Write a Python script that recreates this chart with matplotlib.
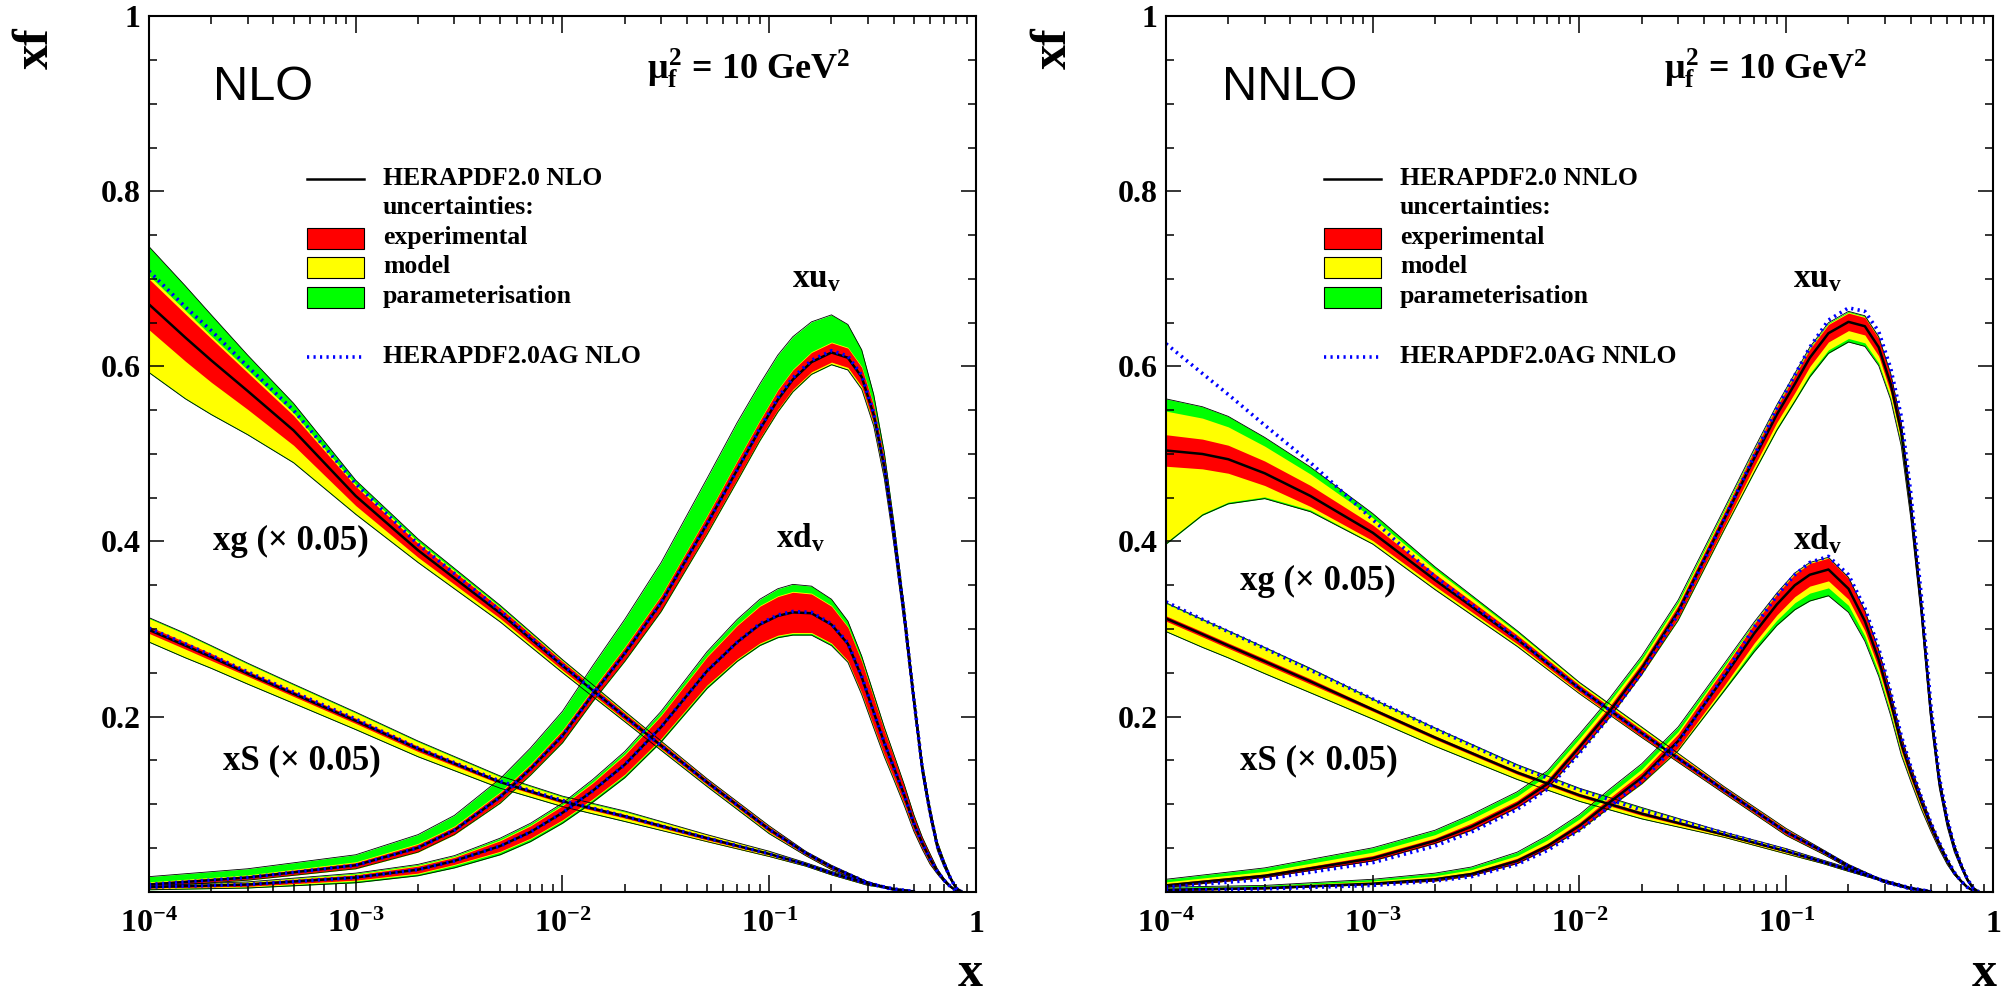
import numpy as np
import matplotlib
matplotlib.use('Agg')
import matplotlib.pyplot as plt
from matplotlib.ticker import FixedLocator, LogLocator, MultipleLocator, NullFormatter
from matplotlib.patches import Rectangle
from matplotlib.lines import Line2D

plt.rcParams['font.family'] = 'Liberation Serif'
plt.rcParams['font.weight'] = 'bold'
plt.rcParams['mathtext.fontset'] = 'custom'
plt.rcParams['mathtext.rm'] = 'Liberation Serif:bold'
plt.rcParams['mathtext.it'] = 'Liberation Serif:bold'
plt.rcParams['mathtext.bf'] = 'Liberation Serif:bold'

# x points of the tables, mu_f^2 = 10 GeV^2
# gluon and sea (shown scaled by 0.05)
x_sea = [1e-4, 1.5e-4, 2e-4, 3e-4, 5e-4,
         1e-3, 2e-3, 5e-3, 1e-2, 2e-2,
         5e-2, 0.1, 0.15, 0.2, 0.3,
         0.4, 0.5]
# valence quarks
x_val = [1e-4, 3e-4, 1e-3, 2e-3, 3e-3,
         5e-3, 7e-3, 1e-2, 1.4e-2, 2e-2,
         3e-2, 5e-2, 0.07, 0.09, 0.11,
         0.13, 0.16, 0.2, 0.24, 0.28,
         0.32, 0.36, 0.4, 0.45, 0.5,
         0.55, 0.6, 0.65, 0.7, 0.75,
         0.8, 0.85]

x_ticks = [1e-4, 1e-3, 1e-2, 1e-1, 1]
x_tick_labels = ['$10^{-4}$', '$10^{-3}$', '$10^{-2}$', '$10^{-1}$', '1']
y_ticks = [0.2, 0.4, 0.6, 0.8, 1.0]
y_tick_labels = ['0.2', '0.4', '0.6', '0.8', '1']

# ---------------- NLO ----------------
nlo_uv = [0.008, 0.016, 0.030, 0.050, 0.070,
          0.108, 0.140, 0.178, 0.225, 0.272,
          0.330, 0.420, 0.482, 0.528, 0.562,
          0.585, 0.605, 0.616, 0.610, 0.588,
          0.545, 0.485, 0.410, 0.315, 0.220,
          0.140, 0.090, 0.052, 0.032, 0.016,
          0.004, 0.000]
nlo_uv_ag = [0.008, 0.016, 0.030, 0.050, 0.070,
             0.108, 0.140, 0.178, 0.225, 0.272,
             0.330, 0.420, 0.482, 0.529, 0.564,
             0.587, 0.607, 0.618, 0.612, 0.590,
             0.547, 0.487, 0.411, 0.316, 0.221,
             0.141, 0.090, 0.052, 0.032, 0.016,
             0.004, 0.000]
nlo_uv_exp = [0.002, 0.002, 0.003, 0.004, 0.004,
              0.005, 0.005, 0.006, 0.006, 0.007,
              0.008, 0.009, 0.010, 0.010, 0.011,
              0.011, 0.011, 0.011, 0.011, 0.011,
              0.010, 0.010, 0.009, 0.008, 0.007,
              0.006, 0.005, 0.004, 0.003, 0.002,
              0.001, 0.000]
nlo_uv_mod_lo = [0.001, 0.001, 0.001, 0.001, 0.001,
                 0.001, 0.001, 0.001, 0.001, 0.001,
                 0.001, 0.002, 0.002, 0.002, 0.002,
                 0.002, 0.002, 0.002, 0.002, 0.002,
                 0.002, 0.002, 0.002, 0.002, 0.001,
                 0.001, 0.001, 0.001, 0.001, 0.000,
                 0.000, 0.000]
nlo_uv_mod_hi = [0.001, 0.001, 0.001, 0.001, 0.001,
                 0.001, 0.001, 0.001, 0.001, 0.001,
                 0.001, 0.001, 0.001, 0.001, 0.001,
                 0.001, 0.001, 0.001, 0.001, 0.001,
                 0.001, 0.001, 0.001, 0.001, 0.001,
                 0.001, 0.001, 0.001, 0.001, 0.000,
                 0.000, 0.000]
nlo_uv_par_lo = [0.000, 0.000, 0.000, 0.000, 0.000,
                 0.001, 0.001, 0.001, 0.001, 0.001,
                 0.001, 0.001, 0.001, 0.001, 0.001,
                 0.001, 0.001, 0.001, 0.001, 0.001,
                 0.001, 0.001, 0.001, 0.001, 0.000,
                 0.000, 0.000, 0.000, 0.000, 0.000,
                 0.000, 0.000]
nlo_uv_par_hi = [0.006, 0.007, 0.008, 0.010, 0.012,
                 0.015, 0.018, 0.021, 0.026, 0.031,
                 0.037, 0.042, 0.043, 0.041, 0.039,
                 0.037, 0.034, 0.031, 0.026, 0.019,
                 0.012, 0.006, 0.003, 0.001, 0.000,
                 0.000, 0.000, 0.000, 0.000, 0.000,
                 0.000, 0.000]

nlo_dv = [0.005, 0.008, 0.016, 0.025, 0.035,
          0.052, 0.068, 0.090, 0.115, 0.145,
          0.188, 0.252, 0.285, 0.305, 0.315,
          0.319, 0.318, 0.305, 0.283, 0.245,
          0.205, 0.170, 0.142, 0.110, 0.078,
          0.055, 0.037, 0.023, 0.013, 0.006,
          0.001, 0.000]
nlo_dv_ag = [0.005, 0.008, 0.016, 0.025, 0.035,
             0.052, 0.068, 0.090, 0.115, 0.145,
             0.188, 0.252, 0.285, 0.306, 0.316,
             0.320, 0.319, 0.306, 0.284, 0.246,
             0.205, 0.170, 0.142, 0.110, 0.078,
             0.055, 0.037, 0.023, 0.013, 0.006,
             0.001, 0.000]
nlo_dv_exp = [0.001, 0.002, 0.003, 0.004, 0.004,
              0.006, 0.007, 0.008, 0.009, 0.011,
              0.013, 0.016, 0.019, 0.021, 0.022,
              0.023, 0.022, 0.021, 0.019, 0.018,
              0.016, 0.014, 0.012, 0.010, 0.008,
              0.006, 0.005, 0.003, 0.002, 0.001,
              0.000, 0.000]
nlo_dv_mod_lo = [0.001, 0.001, 0.001, 0.001, 0.001,
                 0.001, 0.001, 0.001, 0.001, 0.001,
                 0.001, 0.001, 0.001, 0.001, 0.001,
                 0.001, 0.001, 0.001, 0.001, 0.001,
                 0.001, 0.001, 0.001, 0.001, 0.001,
                 0.001, 0.001, 0.000, 0.000, 0.000,
                 0.000, 0.000]
nlo_dv_mod_hi = [0.001, 0.001, 0.001, 0.001, 0.001,
                 0.001, 0.001, 0.001, 0.001, 0.001,
                 0.001, 0.001, 0.001, 0.001, 0.001,
                 0.001, 0.001, 0.001, 0.001, 0.001,
                 0.001, 0.001, 0.001, 0.001, 0.001,
                 0.001, 0.001, 0.000, 0.000, 0.000,
                 0.000, 0.000]
nlo_dv_par_lo = [0.001, 0.001, 0.002, 0.002, 0.003,
                 0.003, 0.003, 0.003, 0.003, 0.003,
                 0.003, 0.003, 0.002, 0.002, 0.002,
                 0.002, 0.002, 0.002, 0.001, 0.001,
                 0.001, 0.001, 0.001, 0.001, 0.000,
                 0.000, 0.000, 0.000, 0.000, 0.000,
                 0.000, 0.000]
nlo_dv_par_hi = [0.000, 0.000, 0.001, 0.001, 0.001,
                 0.002, 0.002, 0.002, 0.003, 0.003,
                 0.004, 0.005, 0.006, 0.007, 0.008,
                 0.008, 0.008, 0.007, 0.006, 0.005,
                 0.004, 0.003, 0.002, 0.001, 0.001,
                 0.000, 0.000, 0.000, 0.000, 0.000,
                 0.000, 0.000]

nlo_g = [0.671, 0.633, 0.607, 0.572, 0.527,
         0.452, 0.390, 0.318, 0.258, 0.200,
         0.125, 0.071, 0.044, 0.028, 0.010,
         0.002, 0.000]
nlo_g_ag = [0.709, 0.668, 0.641, 0.600, 0.550,
            0.466, 0.397, 0.321, 0.259, 0.200,
            0.125, 0.071, 0.044, 0.028, 0.010,
            0.002, 0.000]
nlo_g_exp = [0.029, 0.027, 0.025, 0.021, 0.017,
             0.011, 0.008, 0.006, 0.005, 0.004,
             0.003, 0.003, 0.002, 0.002, 0.001,
             0.000, 0.000]
nlo_g_mod_lo = [0.048, 0.042, 0.036, 0.028, 0.019,
                0.009, 0.005, 0.003, 0.002, 0.001,
                0.001, 0.001, 0.001, 0.001, 0.000,
                0.000, 0.000]
nlo_g_mod_hi = [0.004, 0.004, 0.003, 0.003, 0.003,
                0.002, 0.002, 0.001, 0.001, 0.001,
                0.001, 0.001, 0.000, 0.000, 0.000,
                0.000, 0.000]
nlo_g_par_lo = [0.001, 0.001, 0.001, 0.001, 0.001,
                0.001, 0.001, 0.001, 0.001, 0.001,
                0.001, 0.001, 0.000, 0.000, 0.000,
                0.000, 0.000]
nlo_g_par_hi = [0.033, 0.028, 0.024, 0.017, 0.011,
                0.005, 0.003, 0.002, 0.001, 0.001,
                0.000, 0.000, 0.000, 0.000, 0.000,
                0.000, 0.000]

nlo_s = [0.299, 0.281, 0.268, 0.249, 0.226,
         0.195, 0.163, 0.125, 0.103, 0.086,
         0.061, 0.043, 0.031, 0.021, 0.009,
         0.003, 0.000]
nlo_s_ag = [0.301, 0.283, 0.270, 0.251, 0.228,
            0.197, 0.164, 0.126, 0.104, 0.086,
            0.061, 0.043, 0.031, 0.021, 0.009,
            0.003, 0.000]
nlo_s_exp = [0.004, 0.004, 0.004, 0.003, 0.003,
             0.003, 0.003, 0.002, 0.002, 0.002,
             0.002, 0.001, 0.001, 0.001, 0.001,
             0.000, 0.000]
nlo_s_mod_lo = [0.009, 0.009, 0.008, 0.008, 0.007,
                0.006, 0.005, 0.004, 0.003, 0.003,
                0.002, 0.002, 0.001, 0.001, 0.001,
                0.000, 0.000]
nlo_s_mod_hi = [0.009, 0.009, 0.008, 0.008, 0.007,
                0.006, 0.005, 0.004, 0.003, 0.003,
                0.002, 0.002, 0.001, 0.001, 0.001,
                0.000, 0.000]
nlo_s_par_lo = [0.001, 0.001, 0.001, 0.001, 0.001,
                0.001, 0.001, 0.001, 0.001, 0.001,
                0.000, 0.000, 0.000, 0.000, 0.000,
                0.000, 0.000]
nlo_s_par_hi = [0.001, 0.001, 0.001, 0.001, 0.001,
                0.001, 0.001, 0.001, 0.001, 0.001,
                0.000, 0.000, 0.000, 0.000, 0.000,
                0.000, 0.000]

# ---------------- NNLO ----------------
nnlo_uv = [0.007, 0.018, 0.038, 0.058, 0.074,
           0.100, 0.123, 0.165, 0.206, 0.255,
           0.320, 0.425, 0.495, 0.545, 0.580,
           0.610, 0.638, 0.651, 0.646, 0.622,
           0.580, 0.525, 0.440, 0.325, 0.205,
           0.125, 0.080, 0.050, 0.030, 0.014,
           0.004, 0.000]
nnlo_uv_ag = [0.005, 0.014, 0.033, 0.052, 0.068,
              0.094, 0.117, 0.158, 0.200, 0.250,
              0.317, 0.425, 0.498, 0.552, 0.590,
              0.622, 0.653, 0.667, 0.663, 0.640,
              0.598, 0.543, 0.456, 0.338, 0.214,
              0.131, 0.084, 0.052, 0.031, 0.015,
              0.004, 0.000]
nnlo_uv_exp = [0.002, 0.002, 0.003, 0.003, 0.004,
               0.004, 0.005, 0.005, 0.006, 0.006,
               0.007, 0.008, 0.009, 0.009, 0.010,
               0.010, 0.010, 0.010, 0.010, 0.010,
               0.010, 0.009, 0.009, 0.008, 0.007,
               0.006, 0.005, 0.004, 0.003, 0.002,
               0.001, 0.000]
nnlo_uv_mod_lo = [0.000, 0.000, 0.000, 0.000, 0.000,
                  0.000, 0.000, 0.001, 0.001, 0.001,
                  0.002, 0.003, 0.005, 0.006, 0.007,
                  0.008, 0.009, 0.009, 0.009, 0.008,
                  0.006, 0.005, 0.003, 0.002, 0.002,
                  0.001, 0.001, 0.001, 0.000, 0.000,
                  0.000, 0.000]
nnlo_uv_mod_hi = [0.002, 0.003, 0.004, 0.004, 0.005,
                  0.005, 0.005, 0.005, 0.005, 0.004,
                  0.003, 0.002, 0.001, 0.001, 0.001,
                  0.001, 0.001, 0.001, 0.001, 0.001,
                  0.001, 0.001, 0.001, 0.001, 0.001,
                  0.001, 0.000, 0.000, 0.000, 0.000,
                  0.000, 0.000]
nnlo_uv_par_lo = [0.000, 0.000, 0.000, 0.000, 0.000,
                  0.000, 0.000, 0.000, 0.000, 0.000,
                  0.001, 0.001, 0.002, 0.003, 0.003,
                  0.004, 0.004, 0.004, 0.004, 0.003,
                  0.002, 0.002, 0.001, 0.001, 0.001,
                  0.000, 0.000, 0.000, 0.000, 0.000,
                  0.000, 0.000]
nnlo_uv_par_hi = [0.003, 0.004, 0.005, 0.005, 0.005,
                  0.005, 0.005, 0.005, 0.004, 0.004,
                  0.003, 0.002, 0.001, 0.001, 0.001,
                  0.001, 0.001, 0.001, 0.001, 0.001,
                  0.001, 0.001, 0.001, 0.000, 0.000,
                  0.000, 0.000, 0.000, 0.000, 0.000,
                  0.000, 0.000]

nnlo_dv = [0.002, 0.004, 0.009, 0.014, 0.020,
           0.035, 0.052, 0.075, 0.102, 0.130,
           0.172, 0.245, 0.295, 0.328, 0.350,
           0.362, 0.368, 0.346, 0.309, 0.265,
           0.217, 0.169, 0.136, 0.103, 0.075,
           0.053, 0.035, 0.021, 0.012, 0.005,
           0.001, 0.000]
nnlo_dv_ag = [0.001, 0.003, 0.007, 0.012, 0.017,
              0.031, 0.047, 0.070, 0.097, 0.126,
              0.170, 0.247, 0.302, 0.338, 0.362,
              0.376, 0.383, 0.362, 0.324, 0.278,
              0.228, 0.178, 0.143, 0.108, 0.079,
              0.056, 0.037, 0.022, 0.012, 0.005,
              0.001, 0.000]
nnlo_dv_exp = [0.001, 0.001, 0.001, 0.002, 0.002,
               0.003, 0.003, 0.004, 0.005, 0.006,
               0.008, 0.010, 0.011, 0.012, 0.013,
               0.013, 0.013, 0.012, 0.011, 0.010,
               0.009, 0.008, 0.007, 0.006, 0.005,
               0.004, 0.003, 0.002, 0.001, 0.001,
               0.000, 0.000]
nnlo_dv_mod_lo = [0.000, 0.000, 0.000, 0.000, 0.000,
                  0.000, 0.000, 0.001, 0.001, 0.001,
                  0.002, 0.003, 0.005, 0.006, 0.007,
                  0.008, 0.008, 0.007, 0.006, 0.005,
                  0.004, 0.003, 0.002, 0.002, 0.001,
                  0.001, 0.001, 0.000, 0.000, 0.000,
                  0.000, 0.000]
nnlo_dv_mod_hi = [0.001, 0.001, 0.002, 0.002, 0.003,
                  0.003, 0.004, 0.004, 0.004, 0.004,
                  0.003, 0.002, 0.001, 0.001, 0.001,
                  0.001, 0.001, 0.001, 0.001, 0.001,
                  0.001, 0.000, 0.000, 0.000, 0.000,
                  0.000, 0.000, 0.000, 0.000, 0.000,
                  0.000, 0.000]
nnlo_dv_par_lo = [0.000, 0.000, 0.000, 0.000, 0.000,
                  0.000, 0.000, 0.000, 0.000, 0.000,
                  0.001, 0.003, 0.005, 0.006, 0.008,
                  0.009, 0.009, 0.008, 0.006, 0.004,
                  0.003, 0.002, 0.001, 0.001, 0.000,
                  0.000, 0.000, 0.000, 0.000, 0.000,
                  0.000, 0.000]
nnlo_dv_par_hi = [0.001, 0.001, 0.002, 0.003, 0.003,
                  0.004, 0.005, 0.005, 0.006, 0.006,
                  0.005, 0.003, 0.001, 0.000, 0.000,
                  0.000, 0.000, 0.000, 0.000, 0.000,
                  0.000, 0.000, 0.000, 0.000, 0.000,
                  0.000, 0.000, 0.000, 0.000, 0.000,
                  0.000, 0.000]

nnlo_g = [0.504, 0.500, 0.494, 0.478, 0.452,
          0.410, 0.356, 0.288, 0.232, 0.181,
          0.116, 0.068, 0.046, 0.029, 0.011,
          0.003, 0.000]
nnlo_g_ag = [0.626, 0.592, 0.568, 0.533, 0.490,
             0.425, 0.360, 0.289, 0.232, 0.181,
             0.116, 0.068, 0.046, 0.029, 0.011,
             0.003, 0.000]
nnlo_g_exp = [0.018, 0.017, 0.016, 0.014, 0.012,
              0.009, 0.007, 0.005, 0.004, 0.004,
              0.003, 0.003, 0.002, 0.002, 0.001,
              0.000, 0.000]
nnlo_g_mod_lo = [0.087, 0.051, 0.033, 0.013, 0.004,
                 0.003, 0.003, 0.002, 0.002, 0.001,
                 0.001, 0.001, 0.001, 0.000, 0.000,
                 0.000, 0.000]
nnlo_g_mod_hi = [0.027, 0.024, 0.021, 0.017, 0.013,
                 0.008, 0.005, 0.003, 0.002, 0.002,
                 0.001, 0.001, 0.000, 0.000, 0.000,
                 0.000, 0.000]
nnlo_g_par_lo = [0.002, 0.002, 0.002, 0.002, 0.002,
                 0.001, 0.001, 0.001, 0.000, 0.000,
                 0.000, 0.000, 0.000, 0.000, 0.000,
                 0.000, 0.000]
nnlo_g_par_hi = [0.014, 0.013, 0.012, 0.010, 0.008,
                 0.005, 0.003, 0.002, 0.001, 0.001,
                 0.000, 0.000, 0.000, 0.000, 0.000,
                 0.000, 0.000]

nnlo_s = [0.312, 0.294, 0.281, 0.263, 0.240,
          0.208, 0.176, 0.136, 0.110, 0.089,
          0.065, 0.046, 0.034, 0.025, 0.012,
          0.004, 0.000]
nnlo_s_ag = [0.331, 0.311, 0.297, 0.278, 0.253,
             0.220, 0.186, 0.143, 0.116, 0.093,
             0.067, 0.047, 0.034, 0.025, 0.012,
             0.004, 0.000]
nnlo_s_exp = [0.003, 0.003, 0.003, 0.003, 0.003,
              0.002, 0.002, 0.002, 0.002, 0.002,
              0.001, 0.001, 0.001, 0.001, 0.001,
              0.000, 0.000]
nnlo_s_mod_lo = [0.011, 0.011, 0.010, 0.010, 0.009,
                 0.008, 0.007, 0.005, 0.004, 0.003,
                 0.002, 0.002, 0.001, 0.001, 0.000,
                 0.000, 0.000]
nnlo_s_mod_hi = [0.014, 0.013, 0.013, 0.012, 0.011,
                 0.009, 0.008, 0.006, 0.005, 0.004,
                 0.002, 0.002, 0.001, 0.001, 0.000,
                 0.000, 0.000]
nnlo_s_par_lo = [0.001, 0.001, 0.001, 0.001, 0.001,
                 0.001, 0.001, 0.001, 0.001, 0.001,
                 0.000, 0.000, 0.000, 0.000, 0.000,
                 0.000, 0.000]
nnlo_s_par_hi = [0.001, 0.001, 0.001, 0.001, 0.001,
                 0.001, 0.001, 0.001, 0.001, 0.001,
                 0.000, 0.000, 0.000, 0.000, 0.000,
                 0.000, 0.000]

RED = '#ff0000'
YELLOW = '#ffff00'
GREEN = '#00ff00'
BLUE = '#0000ff'
AG_STYLE = dict(color=BLUE, lw=2.6, ls=(0, (0.6, 1.2)), dash_capstyle='butt')


def pdf_bands(ax, x, c, exp, mod_lo, mod_hi, par_lo, par_hi):
    c = np.array(c)
    red_lo = c - np.array(exp)
    red_hi = c + np.array(exp)
    yel_lo = red_lo - np.array(mod_lo)
    yel_hi = red_hi + np.array(mod_hi)
    grn_lo = yel_lo - np.array(par_lo)
    grn_hi = yel_hi + np.array(par_hi)
    ax.fill_between(x, grn_lo, grn_hi, color=GREEN, lw=0)
    ax.fill_between(x, yel_lo, yel_hi, color=YELLOW, lw=0)
    ax.fill_between(x, red_lo, red_hi, color=RED, lw=0)
    ax.plot(x, grn_lo, color='k', lw=0.6)
    ax.plot(x, grn_hi, color='k', lw=0.6)


def pdf_lines(ax, x, c, ag):
    ax.plot(x, c, color='k', lw=1.8)
    ax.plot(x, ag, **AG_STYLE)


def style_axes(ax):
    ax.set_xscale('log')
    ax.set_xlim(1e-4, 1)
    ax.set_ylim(0, 1)
    ax.xaxis.set_major_locator(FixedLocator(x_ticks))
    ax.set_xticklabels(x_tick_labels)
    ax.xaxis.set_minor_locator(LogLocator(base=10, subs=np.arange(2, 10)))
    ax.xaxis.set_minor_formatter(NullFormatter())
    ax.yaxis.set_major_locator(FixedLocator(y_ticks))
    ax.set_yticklabels(y_tick_labels)
    ax.yaxis.set_minor_locator(MultipleLocator(0.05))
    ax.tick_params(which='both', direction='in', top=True, right=True, width=1.1)
    ax.tick_params(axis='x', which='major', length=12, pad=13, labelsize=23)
    ax.tick_params(axis='x', which='minor', length=6)
    ax.tick_params(axis='y', which='major', length=11, pad=6, labelsize=23)
    ax.tick_params(axis='y', which='minor', length=6)
    for sp in ax.spines.values():
        sp.set_linewidth(1.5)


def draw_key(ax, order):
    t = ax.transAxes
    x0, x1, xt = 0.191, 0.260, 0.283
    h = 0.024
    ax.add_line(Line2D([x0, x1], [0.8143, 0.8143], transform=t, color='k', lw=1.8))
    for yc, col in [(0.7463, RED), (0.7131, YELLOW), (0.6794, GREEN)]:
        ax.add_patch(Rectangle((x0, yc - h / 2), x1 - x0, h, transform=t,
                               facecolor=col, edgecolor='k', lw=0.8))
    ax.add_line(Line2D([x0, x1], [0.6109, 0.6109], transform=t, **AG_STYLE))
    rows = [('HERAPDF2.0 ' + order, 0.8074),
            ('uncertainties:', 0.7743),
            ('experimental', 0.7400),
            ('model', 0.7069),
            ('parameterisation', 0.6726),
            ('HERAPDF2.0AG ' + order, 0.6040)]
    for label, yb in rows:
        ax.text(xt, yb, label, transform=t, fontsize=18.5, va='baseline')


fig = plt.figure(figsize=(20.10, 9.98), dpi=100)
ax_nlo = fig.add_axes([0.07413, 0.1067, 0.41144, 0.8768])
ax_nnlo = fig.add_axes([0.58010, 0.1067, 0.41144, 0.8768])

panels = [
    dict(ax=ax_nlo, order='NLO', x_order=0.077, x_uv=0.778, x_g=0.0774, y_g=0.390, y_dv=0.393,
         sea=[(nlo_g, nlo_g_ag, nlo_g_exp, nlo_g_mod_lo, nlo_g_mod_hi, nlo_g_par_lo, nlo_g_par_hi),
              (nlo_s, nlo_s_ag, nlo_s_exp, nlo_s_mod_lo, nlo_s_mod_hi, nlo_s_par_lo, nlo_s_par_hi)],
         val=[(nlo_dv, nlo_dv_ag, nlo_dv_exp, nlo_dv_mod_lo, nlo_dv_mod_hi, nlo_dv_par_lo, nlo_dv_par_hi),
              (nlo_uv, nlo_uv_ag, nlo_uv_exp, nlo_uv_mod_lo, nlo_uv_mod_hi, nlo_uv_par_lo, nlo_uv_par_hi)]),
    dict(ax=ax_nnlo, order='NNLO', x_order=0.0677, x_uv=0.758, x_g=0.0895, y_g=0.345, y_dv=0.391,
         sea=[(nnlo_g, nnlo_g_ag, nnlo_g_exp, nnlo_g_mod_lo, nnlo_g_mod_hi, nnlo_g_par_lo, nnlo_g_par_hi),
              (nnlo_s, nnlo_s_ag, nnlo_s_exp, nnlo_s_mod_lo, nnlo_s_mod_hi, nnlo_s_par_lo, nnlo_s_par_hi)],
         val=[(nnlo_dv, nnlo_dv_ag, nnlo_dv_exp, nnlo_dv_mod_lo, nnlo_dv_mod_hi, nnlo_dv_par_lo, nnlo_dv_par_hi),
              (nnlo_uv, nnlo_uv_ag, nnlo_uv_exp, nnlo_uv_mod_lo, nnlo_uv_mod_hi, nnlo_uv_par_lo, nnlo_uv_par_hi)]),
]

for p in panels:
    ax = p['ax']
    curves = [(x_sea, s) for s in p['sea']] + [(x_val, v) for v in p['val']]
    for x, (c, ag, exp, mlo, mhi, plo, phi) in curves:
        pdf_bands(ax, x, c, exp, mlo, mhi, plo, phi)
    for x, (c, ag, exp, mlo, mhi, plo, phi) in curves:
        pdf_lines(ax, x, c, ag)
    style_axes(ax)
    draw_key(ax, p['order'])

    t = ax.transAxes
    ax.text(p['x_order'], 0.9046, p['order'], transform=t, fontsize=35,
            family='Liberation Sans', fontweight='normal', va='baseline')
    ax.text(0.6016, 0.928, r'$\mu_{f}^{2}$ = 10 GeV$^{2}$', transform=t,
            fontsize=26, va='baseline')
    ax.text(p['x_uv'], 0.691, r'xu$_{v}$', transform=t, fontsize=24, va='baseline')
    ax.text(0.758, p['y_dv'], r'xd$_{v}$', transform=t, fontsize=24, va='baseline')
    ax.text(p['x_g'], p['y_g'], 'xg (\u00d7 0.05)', transform=t, fontsize=25, va='baseline')
    ax.text(0.0891, 0.140, 'xS (\u00d7 0.05)', transform=t, fontsize=25, va='baseline')

# axis titles at the ends of the axes
for x_left, x_right in [(0.0179, 0.4891), (0.5241, 0.9935)]:
    fig.text(x_left, 1 - 27 / 998, 'xf', rotation=90, fontsize=36,
             ha='center', va='top')
    fig.text(x_right, 1 - 986 / 998, 'x', fontsize=36, ha='right', va='baseline')

fig.savefig('out.png', dpi=100)
